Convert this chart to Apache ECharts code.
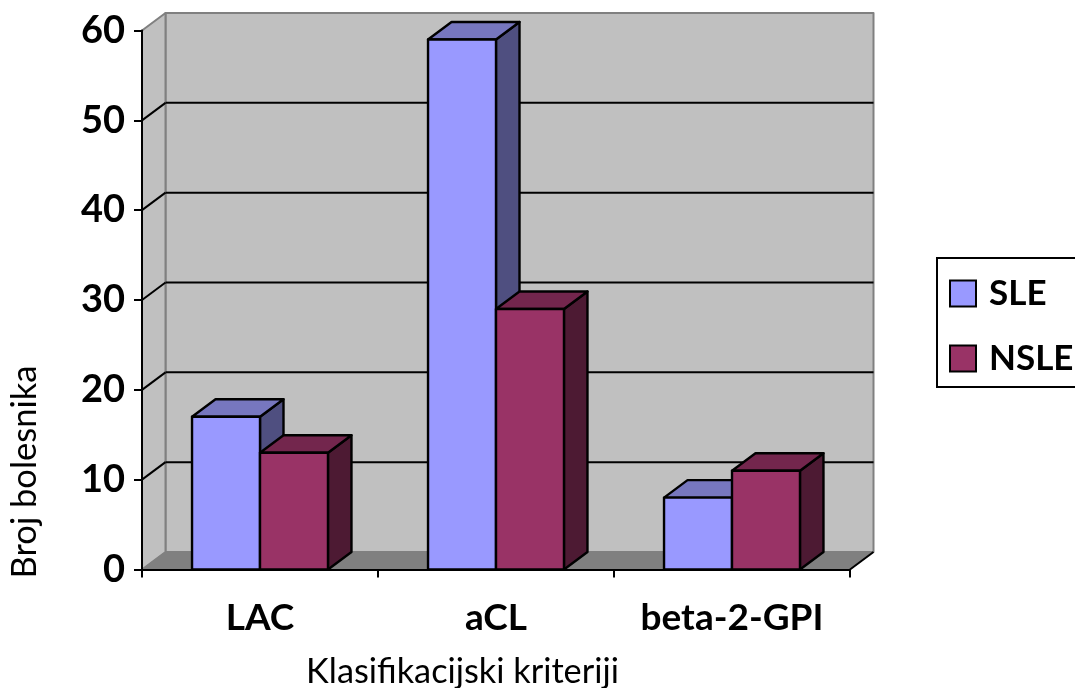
<!DOCTYPE html>
<html>
<head>
<meta charset="utf-8">
<style>
  html, body { margin: 0; padding: 0; background: #fff; }
  #main { width: 1075px; height: 688px; }
</style>
<script src="https://cdn.jsdelivr.net/npm/echarts@6/dist/echarts.min.js"></script>
</head>
<body>
<div id="main"></div>
<script>
var categories = ['LAC', 'aCL', 'beta-2-GPI'];
var sleValues = [17, 59, 8];
var nsleValues = [13, 29, 11];
var wallTicks = [10, 20, 30, 40, 50];

// depth of the fake 3d box, in pixels
var DX = 23.5, DY = -17.5;
var BAR = 0.288;
var EDGE = 2.4;
var FONT = 'Lato';

var chart = echarts.init(document.getElementById('main'));

function poly(points, fill, stroke, width) {
  return {
    type: 'polygon',
    shape: { points: points },
    style: { fill: fill, stroke: stroke, lineWidth: width, lineJoin: 'round' }
  };
}

function line(x1, y1, x2, y2, color, width) {
  return {
    type: 'line',
    shape: { x1: x1, y1: y1, x2: x2, y2: y2 },
    style: { stroke: color, lineWidth: width }
  };
}

function renderWalls(params, api) {
  var c = params.coordSys;
  var l = c.x, r = c.x + c.width, t = c.y, b = c.y + c.height;
  var kids = [
    poly([[l + DX, t + DY], [r + DX, t + DY], [r + DX, b + DY], [l + DX, b + DY]], '#c0c0c0', '#808080', 2),
    poly([[l, t], [l + DX, t + DY], [l + DX, b + DY], [l, b]], '#c0c0c0', '#808080', 2),
    poly([[l, b], [l + DX, b + DY], [r + DX, b + DY], [r, b]], '#808080', '#808080', 1),
    line(r, b, r + DX, b + DY, '#000', 2)
  ];
  wallTicks.forEach(function (v) {
    var y = api.coord([0, v])[1];
    kids.push(line(l, y, l + DX, y + DY, '#000', 2));
    kids.push(line(l + DX, y + DY, r + DX, y + DY, '#000', 2));
  });
  return { type: 'group', children: kids };
}

function renderBars(offset, front, top, side) {
  return function (params, api) {
    var cat = api.value(0);
    var p0 = api.coord([cat, 0]);
    var p1 = api.coord([cat, api.value(1)]);
    var w = api.size([1, 0])[0] * BAR;
    var x1 = p0[0] + offset * w, x2 = x1 + w;
    var yb = p0[1], yt = p1[1];
    return {
      type: 'group',
      children: [
        poly([[x2, yt], [x2 + DX, yt + DY], [x2 + DX, yb + DY], [x2, yb]], side, '#000', EDGE),
        poly([[x1, yt], [x1 + DX, yt + DY], [x2 + DX, yt + DY], [x2, yt]], top, '#000', EDGE),
        poly([[x1, yt], [x2, yt], [x2, yb], [x1, yb]], front, '#000', EDGE)
      ]
    };
  };
}

function toData(arr) {
  return arr.map(function (v, i) { return [i, v]; });
}

chart.setOption({
  animation: false,
  backgroundColor: '#fff',
  grid: { left: 142, top: 30.5, width: 708, height: 539 },
  xAxis: {
    type: 'category',
    data: categories,
    z: 5,
    axisLine: { lineStyle: { color: '#000', width: 2 } },
    axisTick: { show: true, interval: 0, length: 8, lineStyle: { color: '#000', width: 2 } },
    axisLabel: { interval: 0, color: '#000', fontFamily: FONT, fontWeight: 'bold', fontSize: 37, margin: 30 }
  },
  yAxis: {
    type: 'value',
    min: 0,
    max: 60,
    interval: 10,
    z: 5,
    splitLine: { show: false },
    axisLine: { show: true, lineStyle: { color: '#000', width: 2 } },
    axisTick: { show: true, length: 8, lineStyle: { color: '#000', width: 2 } },
    axisLabel: { color: '#000', fontFamily: FONT, fontWeight: 'bold', fontSize: 38, margin: 17, padding: [3, 0, 0, 0] }
  },
  legend: {
    orient: 'vertical',
    left: 937,
    top: 258,
    padding: [18, 60, 11, 12],
    itemGap: 30,
    itemWidth: 26,
    itemHeight: 26,
    icon: 'rect',
    borderColor: '#000',
    borderWidth: 2,
    data: ['SLE', 'NSLE'],
    textStyle: { color: '#000', fontFamily: FONT, fontWeight: 'bold', fontSize: 35, lineHeight: 26, padding: [4, 0, 0, 8] }
  },
  graphic: [
    {
      type: 'text', x: 25, y: 472, rotation: Math.PI / 2,
      style: { text: 'Broj bolesnika', fill: '#000', font: '34.5px ' + FONT, align: 'center', verticalAlign: 'middle' }
    },
    {
      type: 'text', x: 462.5, y: 672,
      style: { text: 'Klasifikacijski kriteriji', fill: '#000', font: '34.3px ' + FONT, align: 'center', verticalAlign: 'middle' }
    }
  ],
  series: [
    {
      name: 'walls', type: 'custom', z: 1, silent: true,
      renderItem: renderWalls, data: [[0, 0]]
    },
    {
      name: 'SLE', type: 'custom', z: 2,
      itemStyle: { color: '#9999ff', borderColor: '#000', borderWidth: 2 },
      renderItem: renderBars(-1, '#9999ff', '#7777bf', '#4f4f80'),
      data: toData(sleValues)
    },
    {
      name: 'NSLE', type: 'custom', z: 3,
      itemStyle: { color: '#993366', borderColor: '#000', borderWidth: 2 },
      renderItem: renderBars(0, '#993366', '#73264d', '#4d1a33'),
      data: toData(nsleValues)
    }
  ]
});
</script>
</body>
</html>
